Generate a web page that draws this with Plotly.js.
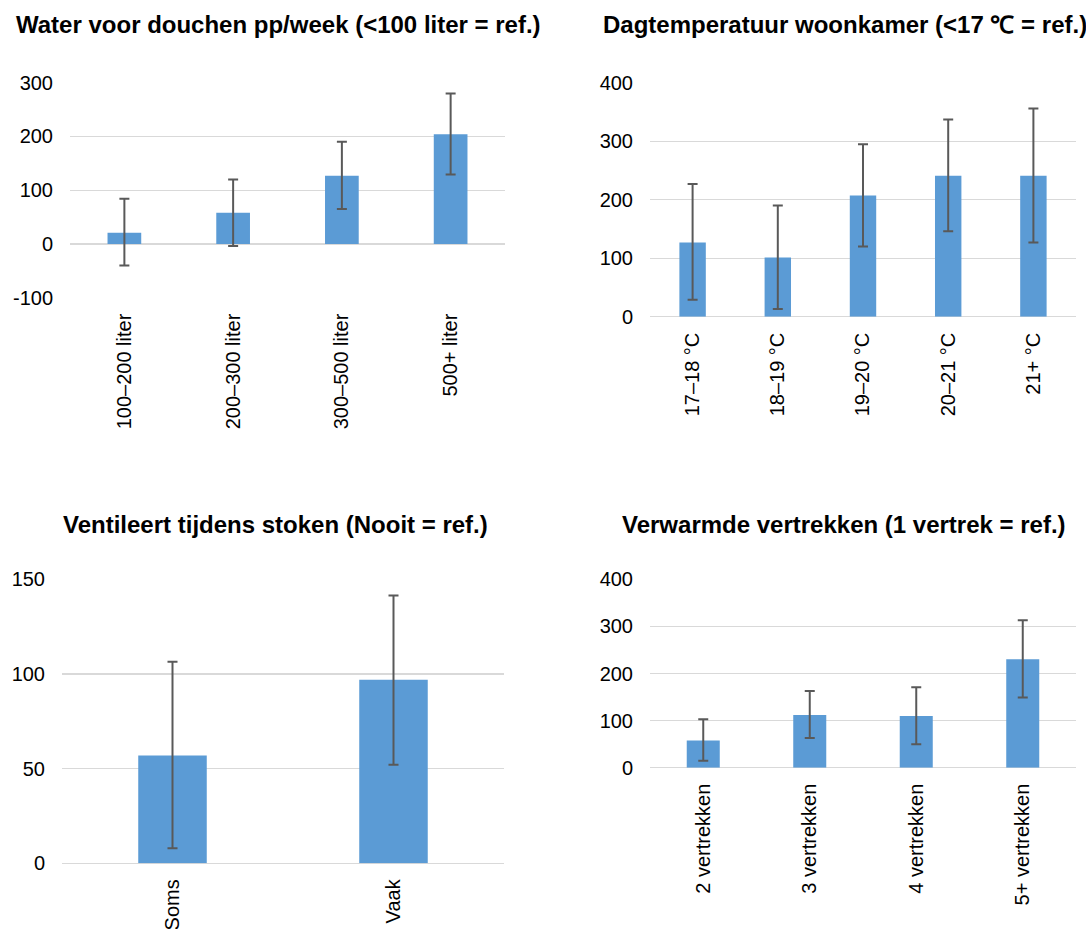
<!DOCTYPE html>
<html>
<head>
<meta charset="utf-8">
<script src="https://cdn.plot.ly/plotly-3.0.1.min.js"></script>
<style>html,body{margin:0;padding:0;background:#fff;}#chart{width:1086px;height:929px;}</style>
</head>
<body>
<div id="chart"></div>
<script>
// Panel 1: Water voor douchen
const waterCats = ["100–200 liter", "200–300 liter", "300–500 liter", "500+ liter"];
const waterEst  = [21, 58, 127, 204];
const waterLow  = [-40, -4, 65, 129];
const waterHigh = [84, 120, 190, 280];
const waterTickVals = [-100, 0, 100, 200, 300];
const waterTickText = ["-100", "0", "100", "200", "300"];

// Panel 2: Dagtemperatuur woonkamer
const tempCats = ["17–18 °C", "18–19 °C", "19–20 °C", "20–21 °C", "21+ °C"];
const tempEst  = [127, 101, 207, 241, 241];
const tempLow  = [29, 13, 120, 146, 127];
const tempHigh = [227, 190, 295, 337, 356];

// Panel 3: Ventileert tijdens stoken
const ventCats = ["Soms", "Vaak"];
const ventEst  = [57, 97];
const ventLow  = [8, 52];
const ventHigh = [106.5, 141.5];

// Panel 4: Verwarmde vertrekken
const roomCats = ["2 vertrekken", "3 vertrekken", "4 vertrekken", "5+ vertrekken"];
const roomEst  = [58, 112, 110, 230];
const roomLow  = [15, 63, 50, 149];
const roomHigh = [103, 163, 171, 313];

const titles = [
  "Water voor douchen pp/week (<100 liter = ref.)",
  "Dagtemperatuur woonkamer (<17 \u2103 = ref.)",
  "Ventileert tijdens stoken (Nooit = ref.)",
  "Verwarmde vertrekken (1 vertrek = ref.)"
];

const FONT = "Liberation Sans, Arial, sans-serif";
const BAR = "#5B9BD5";

function barTrace(cats, est, low, high, xa, ya) {
  return {
    type: "bar", x: cats, y: est, xaxis: xa, yaxis: ya,
    marker: {color: BAR},
    error_y: {
      type: "data", symmetric: false,
      array: high.map((h, i) => h - est[i]),
      arrayminus: est.map((e, i) => e - low[i]),
      color: "#595959", thickness: 2, width: 5
    },
    hoverinfo: "none", showlegend: false
  };
}

const data = [
  barTrace(waterCats, waterEst, waterLow, waterHigh, "x", "y"),
  barTrace(tempCats, tempEst, tempLow, tempHigh, "x2", "y2"),
  barTrace(ventCats, ventEst, ventLow, ventHigh, "x3", "y3"),
  barTrace(roomCats, roomEst, roomLow, roomHigh, "x4", "y4")
];

const H = 929, W = 1086;
function py(p) { return 1 - p / H; }
function px(p) { return p / W; }

function xax(dom, anchor) {
  return {
    domain: dom, anchor: anchor, type: "category",
    tickangle: -90, ticks: "", showline: false, showgrid: false, zeroline: false,
    tickfont: {family: FONT, size: 20, color: "#000"}, ticklabelstandoff: 11,
    fixedrange: true
  };
}
function yax(dom, anchor, range, dtick) {
  return {
    domain: dom, anchor: anchor, range: range, dtick: dtick, tick0: 0,
    ticks: "", showline: false, showgrid: true, gridcolor: "#D9D9D9", gridwidth: 1.3,
    zeroline: true, zerolinecolor: "#D9D9D9", zerolinewidth: 1.3,
    tickfont: {family: FONT, size: 20, color: "#000"}, ticklabelstandoff: 16,
    fixedrange: true
  };
}

const y1 = yax([py(297.7), py(82.7)], "x", [-100, 300], 100);
y1.tickmode = "array";
y1.tickvals = waterTickVals;
y1.ticktext = waterTickText;

const layout = {
  width: W, height: H,
  margin: {l: 0, r: 0, t: 0, b: 0},
  paper_bgcolor: "#fff", plot_bgcolor: "rgba(0,0,0,0)",
  bargap: 0.69,
  font: {family: FONT},
  xaxis:  xax([px(70), px(505)], "y"),
  yaxis:  y1,
  xaxis2: xax([px(650), px(1076)], "y2"),
  yaxis2: yax([py(316.7), py(82.7)], "x2", [0, 400], 100),
  xaxis3: xax([px(62), px(504)], "y3"),
  yaxis3: yax([py(863.3), py(579.3)], "x3", [0, 150], 50),
  xaxis4: xax([px(650), px(1076)], "y4"),
  yaxis4: yax([py(767.7), py(579.3)], "x4", [0, 400], 100),
  annotations: [
    [278, 24, titles[0]],
    [845, 24, titles[1]],
    [275, 524, titles[2]],
    [844, 524, titles[3]]
  ].map(a => ({
    xref: "paper", yref: "paper", x: px(a[0]), y: py(a[1]),
    xanchor: "center", yanchor: "middle", showarrow: false,
    text: "<b>" + a[2] + "</b>",
    font: {family: FONT, size: 24, color: "#000"}
  }))
};

Plotly.newPlot("chart", data, layout, {staticPlot: true, displayModeBar: false});
</script>
</body>
</html>
